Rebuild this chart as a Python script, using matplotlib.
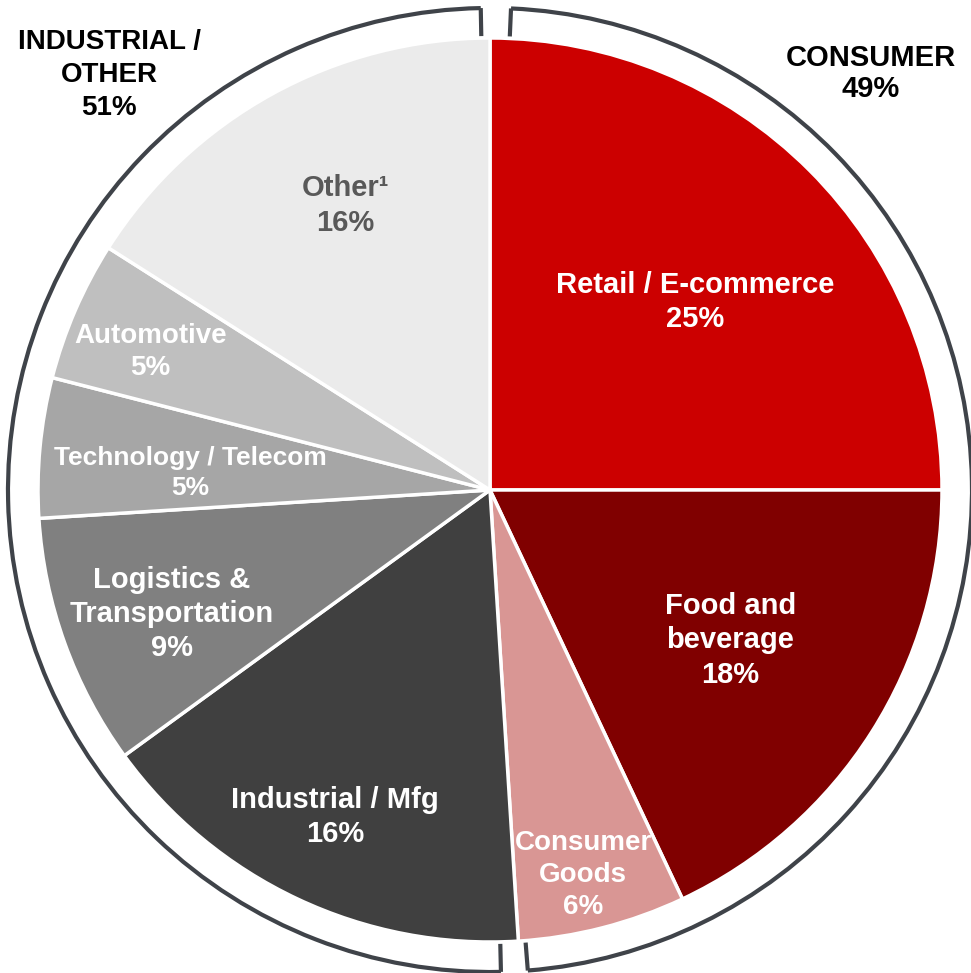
import numpy as np
import matplotlib
matplotlib.use("Agg")
import matplotlib.pyplot as plt
from matplotlib.patches import Arc

# end-market mix, clockwise from 12 o'clock
SEGMENTS = ["Retail / E-commerce", "Food and\nbeverage", "Consumer\nGoods", "Industrial / Mfg",
            "Logistics &\nTransportation", "Technology / Telecom", "Automotive", "Other\u00b9"]
SHARES = [25, 18, 6, 16, 9, 5, 5, 16]
GROUPS = ["CONSUMER", "INDUSTRIAL /\nOTHER"]
GROUP_SHARES = [49, 51]

COLORS = ["#cc0000", "#800000", "#d99694", "#404040", "#808080", "#a6a6a6", "#bfbfbf", "#ebebeb"]
TEXT_COLORS = ["white"] * 7 + ["#595959"]
# label placement: fraction of radius, angular nudge (deg) from the wedge middle
LABEL_R = [0.62, 0.625, 0.872, 0.797, 0.754, 0.665, 0.813, 0.71]
LABEL_DA = [-2.2, 0.7, -0.75, -0.3, 1.2, 1.8, 1.0, -2.0]
LABEL_SIZE = [21, 21, 20, 21, 21, 19, 20, 21]
BRACKET = "#3f4349"

plt.rcParams["font.family"] = ["Liberation Sans", "DejaVu Sans"]

W, H = 971, 973
fig = plt.figure(figsize=(W / 100, H / 100), dpi=100)
ax = fig.add_axes([0, 0, 1, 1])
cx, cy, R = 490, 483, 452

wedges, _ = ax.pie(SHARES, colors=COLORS, startangle=90, counterclock=False,
                   center=(cx, cy), radius=R,
                   wedgeprops=dict(edgecolor="white", linewidth=2.5))

for w, lab, share, tc, rf, da, fs in zip(wedges, SEGMENTS, SHARES, TEXT_COLORS,
                                          LABEL_R, LABEL_DA, LABEL_SIZE):
    mid = np.deg2rad((w.theta1 + w.theta2) / 2 + da)
    ax.text(cx + rf * R * np.cos(mid), cy + rf * R * np.sin(mid) - 2, f"{lab}\n{share}%",
            ha="center", va="center", color=tc, fontsize=fs, fontweight="bold",
            linespacing=1.28)

# brackets grouping consumer vs industrial/other
rb = 482
for a1, a2 in [(-85.5, 87.5), (91.1, 271.3)]:
    ax.add_patch(Arc((cx, cy), 2 * rb, 2 * rb, theta1=a1, theta2=a2,
                     color=BRACKET, lw=3, zorder=3))
    for a in (a1, a2):
        t = np.deg2rad(a)
        ax.plot([cx + rb * np.cos(t), cx + (R + 2) * np.cos(t)],
                [cy + rb * np.sin(t), cy + (R + 2) * np.sin(t)],
                color=BRACKET, lw=3, solid_capstyle="butt", zorder=3)

ax.text(871, H - 73.5, f"{GROUPS[0]}\n{GROUP_SHARES[0]}%", ha="center", va="center",
        fontsize=21, fontweight="bold", color="black", linespacing=1.15)
ax.text(109, H - 75, f"{GROUPS[1]}\n{GROUP_SHARES[1]}%", ha="center", va="center",
        fontsize=20, fontweight="bold", color="black", linespacing=1.36)

ax.set_xlim(0, W)
ax.set_ylim(0, H)
ax.set_aspect("equal")
ax.axis("off")
fig.savefig("out.png", dpi=100, facecolor="white")
